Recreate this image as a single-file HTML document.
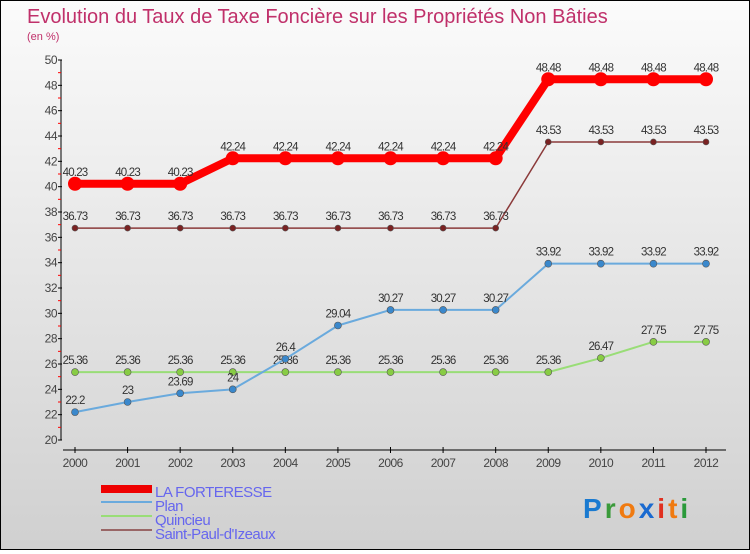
<!DOCTYPE html>
<html><head><meta charset="utf-8"><style>
html,body{margin:0;padding:0}
body{width:750px;height:550px;overflow:hidden;font-family:"Liberation Sans",sans-serif}
#wrap{position:relative;width:748px;height:548px;border:1px solid #000;background:linear-gradient(#fbfbfb,#f0f0f0 25%,#d0d0d0)}
</style></head><body>
<div id="wrap">
<svg id="chart" width="748" height="548" xmlns="http://www.w3.org/2000/svg">
<text x="26" y="22" font-size="20" fill="#c0306a">Evolution du Taux de Taxe Foncière sur les Propriétés Non Bâties</text>
<text x="26" y="39" font-size="11" fill="#c0306a">(en %)</text>
<g id="axes"></g>
<g id="series"></g>
<g id="legend"></g>
<text x="582" y="517" font-size="28" font-weight="bold" letter-spacing="3"><tspan fill="#1a7ad0">P</tspan><tspan fill="#3a9a3a">r</tspan><tspan fill="#f07a10">o</tspan><tspan fill="#1a6ad0">x</tspan><tspan fill="#e03020">i</tspan><tspan fill="#f07a10">t</tspan><tspan fill="#2a9a3a">i</tspan></text>
</svg>
</div>
<script>
const years=[2000,2001,2002,2003,2004,2005,2006,2007,2008,2009,2010,2011,2012];
const yTicks=[20,22,24,26,28,30,32,34,36,38,40,42,44,46,48,50];
const laForteresse=[40.23,40.23,40.23,42.24,42.24,42.24,42.24,42.24,42.24,48.48,48.48,48.48,48.48];
const plan=[22.2,23,23.69,24,26.4,29.04,30.27,30.27,30.27,33.92,33.92,33.92,33.92];
const quincieu=[25.36,25.36,25.36,25.36,25.36,25.36,25.36,25.36,25.36,25.36,26.47,27.75,27.75];
const saintPaul=[36.73,36.73,36.73,36.73,36.73,36.73,36.73,36.73,36.73,43.53,43.53,43.53,43.53];
const NS="http://www.w3.org/2000/svg";
const X=i=>74+i*(631/12);
const Y=v=>439-(v-20)*(380/30);
function mk(tag,attrs,parent,text){const e=document.createElementNS(NS,tag);for(const k in attrs)e.setAttribute(k,attrs[k]);if(text!==undefined)e.textContent=text;parent.appendChild(e);return e;}
const ax=document.getElementById('axes');
let yl=mk('line',{x1:60,y1:Y(50),x2:60,y2:Y(20),stroke:'#000','stroke-width':1},ax);


yTicks.forEach(t=>{
 mk('line',{x1:57,x2:61,y1:Y(t),y2:Y(t),stroke:'#000'},ax);
 if(t<50) mk('line',{x1:57,x2:60,y1:Y(t+1),y2:Y(t+1),stroke:'#f00'},ax);
 const tl=mk('text',{x:56,y:Y(t)+4,'font-size':12,fill:'#444','text-anchor':'end','letter-spacing':'-0.5'},ax,String(t));
 
 
});
let xl=mk('line',{x1:62,y1:449,x2:725,y2:449,stroke:'#000'},ax);


years.forEach((y,i)=>{
 mk('line',{x1:X(i),x2:X(i),y1:446,y2:452,stroke:'#000'},ax);
 const tl=mk('text',{x:X(i),y:466,'font-size':12,fill:'#444','text-anchor':'middle','letter-spacing':'-0.5'},ax,String(y));
 
 
});
const sg=document.getElementById('series');
function drawSeries(vals,color,width,r,dot,name){
 const g=mk('g',{},sg);
 
 
 const p=mk('polyline',{points:vals.map((v,i)=>X(i)+','+Y(v)).join(' '),fill:'none',stroke:color,'stroke-width':width,'stroke-linejoin':'round'},g);
 
 
 vals.forEach((v,i)=>{
  const c=mk('circle',{cx:X(i),cy:Y(v),r:r,fill:dot,stroke:width>3?'none':'#555','stroke-width':0.6},g);
  
  
  const t=mk('text',{x:X(i),y:Y(v)-8,'font-size':11.5,fill:'#333','text-anchor':'middle','letter-spacing':'-0.8'},g,String(v));
  
  
 });
}
drawSeries(quincieu,'#99dd77',2,3.5,'#88cc44','quincieu');
drawSeries(plan,'#6aaadd',2,3.5,'#3a88cc','plan');
drawSeries(saintPaul,'#8b3a3a',1.5,3,'#7a2222','saint-paul');
drawSeries(laForteresse,'#ff0000',8,7,'#ff0000','la-forteresse');
const lg=document.getElementById('legend');
const items=[['LA FORTERESSE','#ee0000',8],['Plan','#6aaadd',2],['Quincieu','#99dd77',2],['Saint-Paul-d\'Izeaux','#996666',2]];
items.forEach((it,k)=>{
 const y=492+k*14;
 const l=mk('line',{x1:100,x2:151,y1:y-(k?5:4),y2:y-(k?5:4),stroke:it[1],'stroke-width':it[2]},lg);
 
 
 const t=mk('text',{x:154,y:y+4,'font-size':15,fill:'#6666ee','letter-spacing':'-0.5'},lg,it[0]);
 
 
});
</script>
</body></html>
